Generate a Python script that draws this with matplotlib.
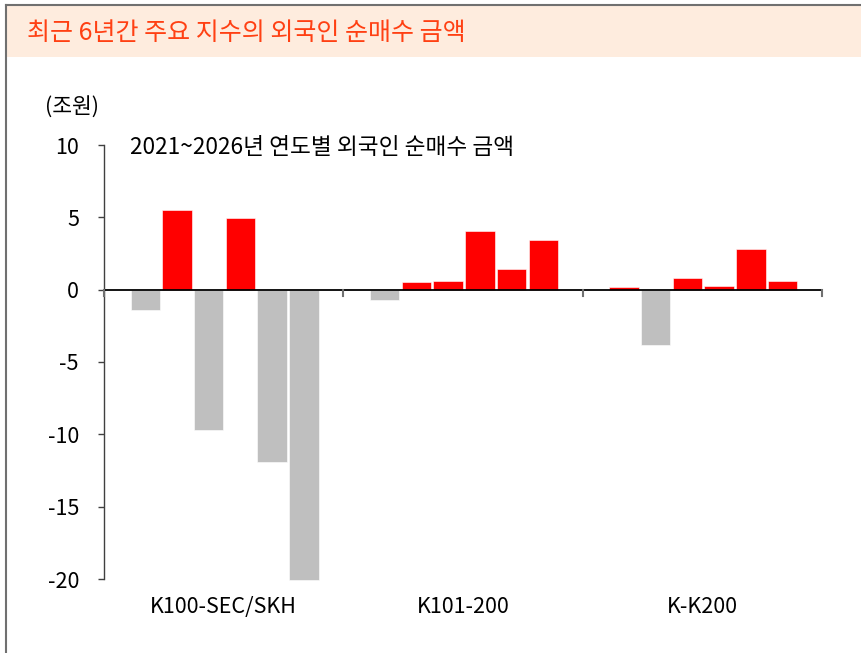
import matplotlib
matplotlib.use("Agg")
import matplotlib.pyplot as plt
from matplotlib.patches import Rectangle
from matplotlib.lines import Line2D
import numpy as np

plt.rcParams['font.family'] = ['Noto Sans CJK KR', 'DejaVu Sans']

title = "최근 6년간 주요 지수의 외국인 순매수 금액"
subtitle = "2021~2026년 연도별 외국인 순매수 금액"
unit_label = "(조원)"
categories = ["K100-SEC/SKH", "K101-200", "K-K200"]
years = [2021, 2022, 2023, 2024, 2025, 2026]
k100_sec_skh = [-1.4, 5.5, -9.7, 4.95, -11.9, -20.1]
k101_200 = [-0.7, 0.5, 0.6, 4.07, 1.45, 3.45]
k_k200 = [0.2, -3.85, 0.78, 0.25, 2.83, 0.6]
yticks = [10, 5, 0, -5, -10, -15, -20]

W, H = 862, 653
fig = plt.figure(figsize=(W / 100, H / 100), dpi=100)

# title band
fig.patches.append(Rectangle((7 / W, 1 - 57 / H), 1, 52 / H, transform=fig.transFigure,
                             facecolor="#FEECDE", edgecolor="none", zorder=0))
fig.lines.append(Line2D([6.5 / W, 1], [1 - 4.5 / H, 1 - 4.5 / H], transform=fig.transFigure,
                        color="#707070", lw=1.5))
fig.lines.append(Line2D([6.5 / W, 6.5 / W], [0, 1 - 4.5 / H], transform=fig.transFigure,
                        color="#707070", lw=1.5))
fig.text(27 / W, 1 - 33 / H, title, color="#FF4013", fontsize=18, va="center", ha="left")

ax = fig.add_axes([104 / W, 1 - 579 / H, (822 - 104) / W, (579 - 145) / H])
series = [k100_sec_skh, k101_200, k_k200]
pitch = 0.1325
width = 0.123
for g, vals in enumerate(series):
    for i, v in enumerate(vals):
        x = g + (i - 2.5) * pitch + 0.004
        col = "#FF0000" if v >= 0 else "#BFBFBF"
        ax.bar(x, v, width=width, color=col, edgecolor="white", linewidth=0.4,
               zorder=2, clip_on=False)

ax.set_xlim(-0.5, 2.5)
ax.set_ylim(-20, 10)
ax.axhline(0, color="black", lw=1.3, zorder=3)
for sp in ["top", "right", "bottom"]:
    ax.spines[sp].set_visible(False)
ax.spines["left"].set_color("#404040")
ax.spines["left"].set_linewidth(1.0)
ax.set_yticks(yticks)
ax.set_yticklabels([str(t) for t in yticks], fontsize=15.5)
ax.tick_params(axis="y", length=4.5, width=1.0, color="#404040", pad=13.5)
ax.set_xticks(range(len(categories)))
ax.set_xticklabels(categories, fontsize=15.5)
ax.tick_params(axis="x", length=0, pad=(598 - 579) - 7)
for xb in [-0.5, 0.5, 1.5, 2.5]:
    ax.plot([xb, xb], [0, -0.45], color="#707070", lw=1.5, zorder=3, clip_on=False)

fig.text(45 / W, 1 - 108 / H, unit_label, fontsize=15.5, va="center", ha="left")
fig.text(130 / W, 1 - 148 / H, subtitle, fontsize=16.3, va="center", ha="left")

fig.savefig("out.png", dpi=100)
